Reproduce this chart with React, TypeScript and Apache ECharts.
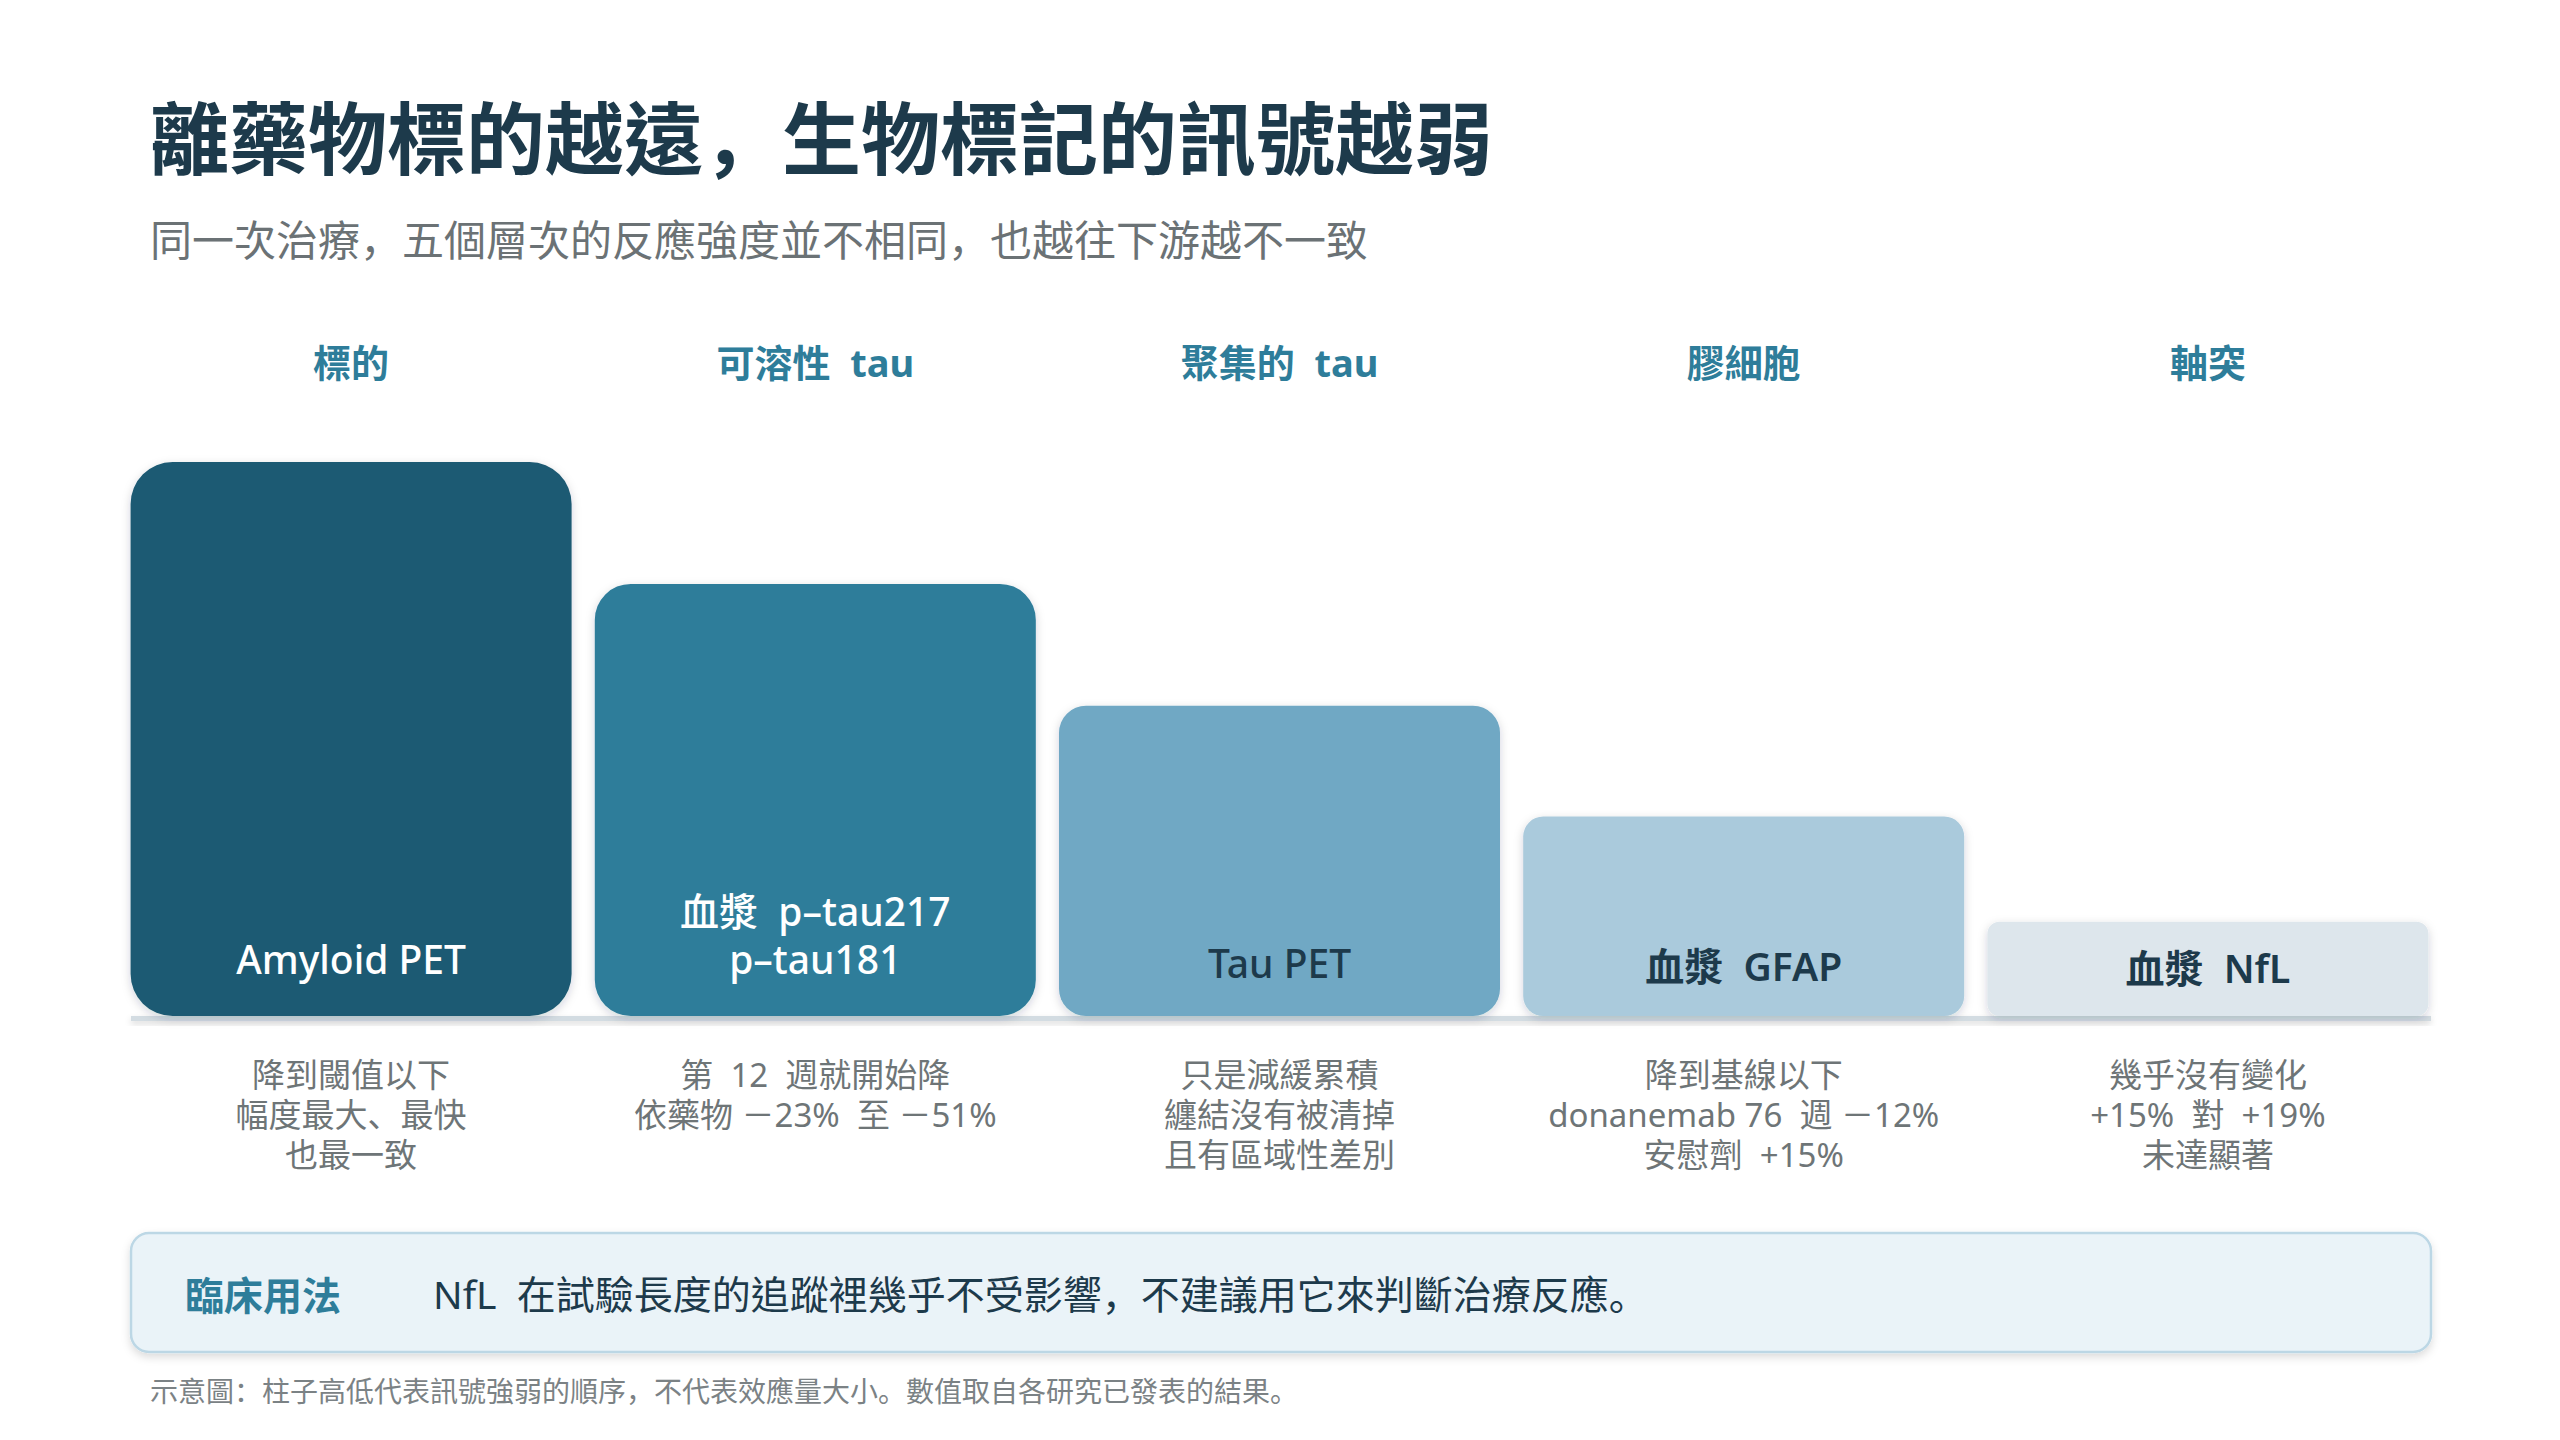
import React, { useEffect, useRef } from "react";
import * as echarts from "echarts";

const stages = ["標的", "可溶性  tau", "聚集的  tau", "膠細胞", "軸突"];
const markers = [
  "Amyloid PET",
  "血漿  p–tau217\np–tau181",
  "Tau PET",
  "血漿  GFAP",
  "血漿  NfL",
];
const signal = [100, 78, 56, 36, 17];
const notes = [
  "降到閾值以下\n幅度最大、最快\n也最一致",
  "第  12  週就開始降\n依藥物 －23%  至 －51%",
  "只是減緩累積\n纏結沒有被清掉\n且有區域性差別",
  "降到基線以下\ndonanemab 76  週 －12%\n安慰劑  +15%",
  "幾乎沒有變化\n+15%  對  +19%\n未達顯著",
];
const titleText = "離藥物標的越遠，生物標記的訊號越弱";
const subtitleText = "同一次治療，五個層次的反應強度並不相同，也越往下游越不一致";
const calloutLabel = "臨床用法";
const calloutText = "NfL  在試驗長度的追蹤裡幾乎不受影響，不建議用它來判斷治療反應。";
const footnoteText = "示意圖：柱子高低代表訊號強弱的順序，不代表效應量大小。數值取自各研究已發表的結果。";

const barColors = ["#1f5a73", "#2e7d9a", "#6fa8c4", "#aacadc", "#dde6ec"];
const labelColors = ["#ffffff", "#ffffff", "#1d3a4b", "#1d3a4b", "#1d3a4b"];
const labelWeights = [500, 500, 500, 600, 600];
const radii = [42, 36, 27, 20, 12];
const labelDist = [34, 34, 30, 27, 25];

const CJK = "'Noto Sans CJK TC', 'Noto Sans CJK SC', sans-serif";
const MIX = "'Noto Sans', 'Noto Sans CJK TC', sans-serif";
const MIX_SC = "'Noto Sans', 'Noto Sans CJK SC', sans-serif";
const PUNCT_FONT = "'Noto Sans CJK SC', sans-serif";

const punct = (s: string) => s.replace(/([，。、：])/g, "{p|$1}");
const pStyle = (fontSize: number, fill: string, fontWeight: any = 400) => ({
  p: { fontFamily: PUNCT_FONT, fontSize, fontWeight, fill, color: fill },
});

export default function App() {
  const ref = useRef<HTMLDivElement>(null);
  useEffect(() => {
    document.body.style.margin = "0";
    if (!ref.current) return;
    const chart = echarts.init(ref.current, null, { renderer: "svg" });
    chart.setOption({
      animation: false,
      backgroundColor: "#ffffff",
      grid: { left: 119, right: 120, top: 462, bottom: 424 },
      xAxis: [
        {
          type: "category",
          data: notes,
          position: "bottom",
          axisLine: { show: false },
          axisTick: { show: false },
          axisLabel: {
            margin: 38,
            fontSize: 33,
            lineHeight: 40,
            color: "#6e7577",
            fontFamily: MIX_SC,
            interval: 0,
          },
        },
        {
          type: "category",
          data: stages,
          position: "top",
          axisLine: { show: false },
          axisTick: { show: false },
          axisLabel: {
            margin: 80,
            fontSize: 38,
            lineHeight: 40,
            fontWeight: 700,
            color: "#2e7d9a",
            fontFamily: MIX,
            interval: 0,
          },
        },
      ],
      yAxis: { type: "value", min: 0, max: 100, show: false },
      series: [
        {
          type: "bar",
          xAxisIndex: 0,
          barWidth: 441,
          z: 3,
          data: signal.map((v, i) => ({
            value: v,
            itemStyle: {
              color: barColors[i],
              borderRadius: radii[i],
              shadowBlur: 10,
              shadowColor: "rgba(20,40,60,0.18)",
              shadowOffsetY: 3,
            },
            label: {
              show: true,
              position: "insideBottom",
              distance: labelDist[i],
              formatter: markers[i],
              color: labelColors[i],
              fontWeight: labelWeights[i],
              fontSize: 39,
              lineHeight: 48,
              fontFamily: MIX,
            },
          })),
        },
      ],
      graphic: [
        {
          type: "text",
          x: 150,
          y: 134,
          style: {
            text: punct(titleText),
            fontSize: 79,
            fontWeight: 700,
            fill: "#1d3a4b",
            fontFamily: CJK,
            verticalAlign: "middle",
            rich: pStyle(79, "#1d3a4b", 700),
          },
        },
        {
          type: "text",
          x: 150,
          y: 237,
          style: {
            text: punct(subtitleText),
            fontSize: 42,
            fill: "#6b7275",
            fontFamily: CJK,
            verticalAlign: "middle",
            rich: pStyle(42, "#6b7275"),
          },
        },
        {
          type: "rect",
          z: 1,
          shape: { x: 131, y: 1016, width: 2300, height: 5 },
          style: {
            fill: "#d3dce2",
            shadowBlur: 6,
            shadowColor: "rgba(0,0,0,0.15)",
            shadowOffsetY: 3,
          },
        },
        {
          type: "rect",
          z: 1,
          shape: { x: 131, y: 1233, width: 2300, height: 119, r: 18 },
          style: {
            fill: "#eaf3f8",
            stroke: "#bcd7e5",
            lineWidth: 2.5,
            shadowBlur: 8,
            shadowColor: "rgba(0,0,0,0.14)",
            shadowOffsetY: 4,
          },
        },
        {
          type: "text",
          z: 2,
          x: 185,
          y: 1293,
          style: {
            text: calloutLabel,
            fontSize: 39,
            fontWeight: 700,
            fill: "#2e7d9a",
            fontFamily: CJK,
            verticalAlign: "middle",
          },
        },
        {
          type: "text",
          z: 2,
          x: 433,
          y: 1293,
          style: {
            text: punct(calloutText),
            fontSize: 39,
            fill: "#1d3a4b",
            fontFamily: MIX,
            verticalAlign: "middle",
            rich: pStyle(39, "#1d3a4b"),
          },
        },
        {
          type: "text",
          x: 150,
          y: 1390,
          style: {
            text: punct(footnoteText),
            fontSize: 28,
            fill: "#7b8285",
            fontFamily: CJK,
            verticalAlign: "middle",
            rich: pStyle(28, "#7b8285"),
          },
        },
      ],
    });
    return () => chart.dispose();
  }, []);
  return <div ref={ref} style={{ width: 2560, height: 1440 }} />;
}
